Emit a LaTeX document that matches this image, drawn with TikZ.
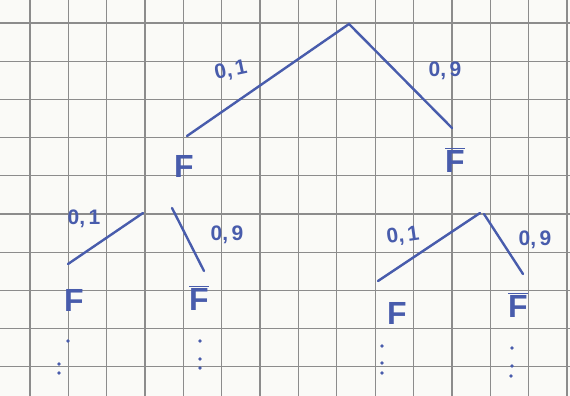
\documentclass[tikz,border=0pt]{standalone}
\usepackage{fontspec}
\setmainfont{Liberation Sans}
\definecolor{paper}{RGB}{250,250,247}
\definecolor{gridc}{RGB}{140,140,140}
\definecolor{ink}{RGB}{72,92,172}
\begin{document}
\begin{tikzpicture}[x=1pt,y=-1pt,
  gridline/.style={draw=gridc,line width=1.3pt},
  branch/.style={draw=ink,line width=2.4pt,line cap=round},
  lbl/.style={text=ink,font=\fontsize{21}{21}\selectfont\bfseries,inner sep=0pt},
  ev/.style={text=ink,font=\fontsize{32}{32}\selectfont\bfseries,inner sep=0pt},
  dotc/.style={fill=ink}]
\path[fill=paper] (0,0) rectangle (570,396);
\useasboundingbox (0,0) rectangle (570,396);
% grid
\foreach \k in {0,...,14} {\draw[gridline] (30+38.35*\k,0) -- (30+38.35*\k,396);}
\foreach \k in {0,...,9} {\draw[gridline] (0,23+38.2*\k) -- (570,23+38.2*\k);}
% level 1
\coordinate (r) at (349,24);
\coordinate (l1) at (187,136);
\coordinate (r1) at (452,128);
\draw[branch] (l1) -- (r) -- (r1);
\node[lbl,rotate=12] (p1) at (231,71) {0,\,1};
\node[lbl] (p2) at (445,71) {0,\,9};
\node[ev] (F1) at (184,166) {F};
\node[ev] (F2) at (455,160) {$\overline{\mbox{F}}$};
% level 2 left
\coordinate (a1) at (68,264);
\coordinate (a2) at (143,213);
\coordinate (b1) at (172,208);
\coordinate (b2) at (204,271);
\draw[branch] (a1) -- (a2);
\draw[branch] (b1) -- (b2);
\node[lbl] (p3) at (84,219) {0,\,1};
\node[lbl] (p4) at (227,235) {0,\,9};
\node[ev] (F3) at (74,300) {F};
\node[ev] (F4) at (199,298) {$\overline{\mbox{F}}$};
% level 2 right
\coordinate (c1) at (378,281);
\coordinate (c2) at (480,213);
\coordinate (d1) at (484,214);
\coordinate (d2) at (523,274);
\draw[branch] (c1) -- (c2);
\draw[branch] (d1) -- (d2);
\node[lbl,rotate=8] (p5) at (403,236) {0,\,1};
\node[lbl] (p6) at (535,240) {0,\,9};
\node[ev] (F5) at (397,313) {F};
\node[ev] (F6) at (518,305) {$\overline{\mbox{F}}$};
% continuation dots
\foreach \x/\y in {68/341,59/364,59/373, 200/341,200/359,200/368, 382/346,382/363,382/373, 512/348,512/366,511/376}
  \fill[ink] (\x,\y) circle (1.8);
\end{tikzpicture}
\end{document}
